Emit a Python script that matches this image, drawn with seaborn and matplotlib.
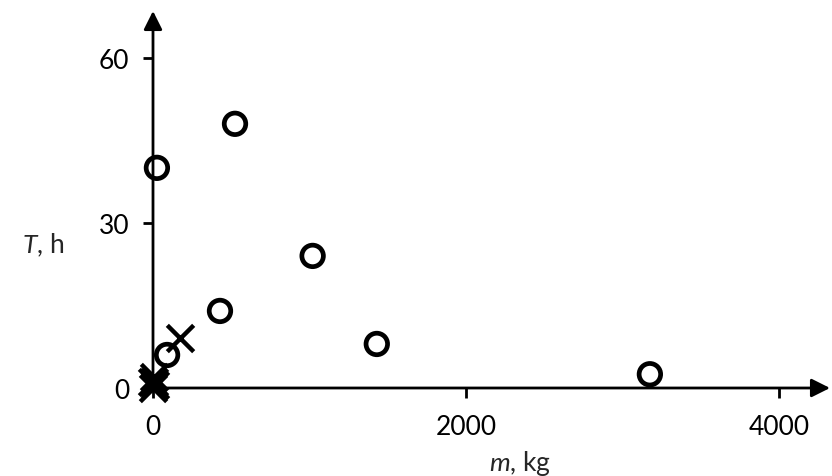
import matplotlib
matplotlib.use("Agg")
import matplotlib.pyplot as plt
import seaborn as sns
import pandas as pd

# values
circle_m = [25, 524, 1020, 428, 1430, 3175, 90]
circle_T = [40, 48, 24, 14, 8, 2.5, 6]
cross_m = [170, 0, 8, 15, 4, -5]
cross_T = [9, 0, 1, 0.5, 2, 1]

x_ticks = [0, 2000, 4000]
y_ticks = [0, 30, 60]

circles = pd.DataFrame({"m": circle_m, "T": circle_T})
crosses = pd.DataFrame({"m": cross_m, "T": cross_T})

sns.set_style("white")
plt.rcParams["font.family"] = ["Lato", "DejaVu Sans"]
plt.rcParams["mathtext.fontset"] = "custom"
plt.rcParams["mathtext.it"] = "Lato:italic"
plt.rcParams["mathtext.rm"] = "Lato"

fig = plt.figure(figsize=(8.32, 4.77), dpi=100)
ax = fig.add_axes([153 / 832, 88 / 477, (830 - 153) / 832, (465 - 88) / 477])

sns.scatterplot(data=circles, x="m", y="T", ax=ax, marker="o", s=240,
                facecolor="none", edgecolor="black", linewidth=3.4, clip_on=False, zorder=3)
sns.scatterplot(data=crosses, x="m", y="T", ax=ax, marker="x", s=360,
                color="black", linewidth=3.2, clip_on=False, zorder=3)

ax.set_xlim(0, 4326)
ax.set_ylim(0, 68.5)
ax.set_xticks(x_ticks)
ax.set_yticks(y_ticks)
ax.tick_params(axis="both", direction="out", length=7, width=2, color="black",
               labelsize=19, labelcolor="black")
ax.tick_params(axis="x", bottom=True, pad=12)
ax.tick_params(axis="y", left=True, pad=10)
for s in ax.spines.values():
    s.set_visible(False)
ax.set_xlabel("")
ax.set_ylabel("")

# axis lines with arrow heads
arrow = dict(arrowstyle="-|>", color="black", lw=2, mutation_scale=28, shrinkA=0, shrinkB=0)
ax.annotate("", xy=(1.0, 0), xytext=(0, 0), xycoords="axes fraction", arrowprops=arrow, zorder=1)
ax.annotate("", xy=(0, 1.0), xytext=(0, 0), xycoords="axes fraction", arrowprops=arrow, zorder=1)

fig.text(520 / 832, 1 - 464 / 477, r"$\mathit{m}$, kg", fontsize=19, ha="center", va="center")
fig.text(43 / 832, 1 - 245 / 477, r"$\mathit{T}$, h", fontsize=19, ha="center", va="center")

fig.savefig("out.png", dpi=100)
